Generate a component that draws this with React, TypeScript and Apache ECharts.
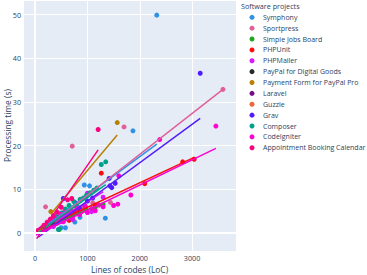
import React, { useEffect, useRef } from "react";
import * as echarts from "echarts";

const projectNames = [
  "Symphony",
  "Sportpress",
  "Simple Jobs Board",
  "PHPUnit",
  "PHPMailer",
  "PayPal for Digital Goods",
  "Payment Form for PayPal Pro",
  "Laravel",
  "Guzzle",
  "Grav",
  "Composer",
  "CodeIgniter",
  "Appointment Booking Calendar",
];

const projectColors = [
  "#2E91E5", "#E15F99", "#1CA71C", "#FB0D0D", "#DA16FF", "#222A2A", "#B68100",
  "#750D86", "#EB663B", "#511CFB", "#00A08B", "#FB00D1", "#FC0080",
];

// [lines of code, processing time]
const symphony = [
  [80, 0.5], [160, 1.0], [240, 1.7], [320, 2.4], [420, 2.2], [497, 1.2], [500, 3.6],
  [580, 1.2], [680, 4.5], [760, 2.5], [858, 3.6], [940, 11.0], [1040, 10.8],
  [1342, 3.4], [1870, 23.4], [2325, 49.9],
];
const sportpress = [
  [50, 0.6], [130, 1.2], [200, 6.0], [300, 2.9], [420, 3.6], [560, 4.9], [710, 19.9],
  [900, 5.8], [1100, 6.9], [1440, 7.0], [1700, 24.3], [3590, 32.9],
];
const simpleJobsBoard = [
  [100, 0.6], [230, 1.4], [380, 2.1], [460, 0.8], [520, 2.9], [650, 3.6], [820, 4.5],
  [980, 5.3], [1150, 5.9], [1300, 6.5],
];
const phpUnit = [
  [70, 0.6], [150, 1.0], [260, 1.9], [380, 2.3], [520, 3.4], [650, 2.9], [800, 5.4],
  [960, 6.1], [1150, 6.4], [1265, 13.7], [2095, 11.3], [2820, 16.3], [3040, 16.9],
];
const phpMailer = [
  [40, 0.3], [110, 0.8], [190, 1.4], [270, 2.1], [350, 1.5], [440, 3.3], [530, 2.6],
  [620, 4.6], [720, 3.1], [830, 5.8], [1000, 9.1], [1080, 4.9], [1300, 8.2],
];
const paypalDigitalGoods = [[40, 0.2], [90, 0.5], [150, 0.9], [230, 1.4]];
const paymentForm = [[300, 4.9], [380, 2.2], [480, 3.0], [620, 4.4], [1570, 25.3]];
const laravel = [[60, 0.4], [140, 0.9], [260, 1.7], [380, 2.4]];
const guzzle = [[50, 0.3], [120, 0.8], [210, 1.4], [300, 2.0]];
const grav = [
  [60, 0.2], [180, 1.1], [300, 1.9], [420, 2.7], [540, 7.9], [600, 4.3], [770, 6.9],
  [850, 5.6], [1000, 7.3], [1100, 8.0], [1415, 12.5], [1430, 10.8], [1465, 10.4],
  [1530, 11.4], [3155, 36.6],
];
const composer = [
  [60, 0.3], [150, 1.0], [250, 1.6], [330, 2.5], [400, 3.8], [446, 0.8], [450, 2.9],
  [500, 4.6], [540, 3.5], [580, 5.5], [620, 4.2], [650, 6.3], [700, 5.0], [740, 7.2],
  [800, 6.0], [860, 7.7], [920, 8.0], [980, 8.6], [1050, 9.2], [1120, 9.8],
  [1180, 10.3], [1265, 15.7], [1350, 16.3],
];
const codeIgniter = [
  [20, 0.2], [40, 0.3], [60, 0.5], [80, 0.4], [100, 0.9], [120, 0.6], [140, 1.2],
  [160, 0.8], [180, 1.5], [200, 1.0], [220, 1.9], [240, 1.3], [260, 2.2], [280, 1.6],
  [300, 2.6], [320, 1.9], [340, 2.9], [360, 2.2], [380, 3.4], [400, 2.5], [420, 3.1],
  [440, 2.8], [460, 3.8], [480, 3.0], [500, 4.3], [520, 3.3], [540, 2.6], [560, 3.7],
  [580, 4.8], [600, 3.4], [640, 4.1], [680, 5.2], [720, 3.9], [760, 4.6], [800, 5.8],
  [850, 4.2], [900, 5.0], [950, 6.3], [1000, 4.7], [1080, 5.6], [1150, 5.1],
  [1220, 6.4], [1300, 6.0], [1500, 6.3], [1580, 6.6], [1600, 13.1], [1830, 8.7],
  [2380, 21.4], [3455, 24.5],
];
const appointmentBooking = [
  [30, 0.1], [60, 0.4], [90, 0.3], [110, 0.9], [140, 1.0], [170, 1.8], [200, 1.3],
  [230, 2.5], [260, 1.9], [290, 3.2], [320, 2.4], [350, 4.0], [380, 3.1], [420, 4.8],
  [460, 3.6], [500, 5.9], [560, 4.5], [620, 7.6], [700, 7.9], [760, 5.0], [1205, 23.7],
];

const projectPoints = [
  symphony, sportpress, simpleJobsBoard, phpUnit, phpMailer, paypalDigitalGoods,
  paymentForm, laravel, guzzle, grav, composer, codeIgniter, appointmentBooking,
];

// OLS trendline coefficients
const trendSlopes = [
  0.0088, 0.00936, 0.0048, 0.0056, 0.0075, 0.0058, 0.01424, 0.0063, 0.0066, 0.0088,
  0.0085, 0.00577, 0.0173,
];
const trendIntercepts = [
  -0.1, -0.7, 0.5, 0.3, -0.3, 0.0, 0.1, 0.0, 0.0, -1.5, -0.4, -0.56, -1.8,
];

const FONT = '"Open Sans", verdana, arial, sans-serif';
const TEXT = "#2a3f5f";

export default function App() {
  const ref = useRef<HTMLDivElement>(null);
  useEffect(() => {
    if (!ref.current) return;
    const chart = echarts.init(ref.current, undefined, { renderer: "svg" });
    const series: any[] = [
      {
        type: "scatter",
        data: [],
        silent: true,
        markLine: {
          silent: true,
          symbol: "none",
          label: { show: false },
          lineStyle: { color: "#ffffff", width: 2, type: "solid" },
          data: [{ yAxis: 0 }, { xAxis: 0 }],
        },
      },
    ];
    projectNames.forEach((name, i) => {
      const pts = projectPoints[i];
      const xs = pts.map((p) => p[0]);
      const xMin = Math.min(...xs);
      const xMax = Math.max(...xs);
      series.push({
        name,
        type: "scatter",
        data: pts,
        symbolSize: 5,
        itemStyle: { color: projectColors[i], opacity: 1 },
      });
      series.push({
        name,
        type: "line",
        data: [
          [xMin, trendSlopes[i] * xMin + trendIntercepts[i]],
          [xMax, trendSlopes[i] * xMax + trendIntercepts[i]],
        ],
        showSymbol: false,
        symbol: "none",
        silent: true,
        lineStyle: { color: projectColors[i], width: 1.5 },
        itemStyle: { color: projectColors[i] },
      });
    });
    chart.setOption({
      animation: false,
      backgroundColor: "#ffffff",
      textStyle: { fontFamily: FONT },
      title: {
        text: "Software projects",
        left: 241,
        top: 2,
        padding: 0,
        textStyle: { fontSize: 7.2, fontWeight: "normal", color: TEXT, fontFamily: FONT },
      },
      graphic: [
        {
          type: "text",
          x: 7,
          y: 125.5,
          rotation: Math.PI / 2,
          silent: true,
          style: {
            text: "Processing time (s)",
            fontSize: 8.4,
            fontFamily: FONT,
            fill: TEXT,
            align: "center",
            verticalAlign: "middle",
          },
        },
      ],
      legend: {
        orient: "vertical",
        left: 249.5,
        top: 12.3,
        padding: 0,
        itemWidth: 5,
        itemHeight: 5,
        itemGap: 0.87,
        icon: "circle",
        data: projectNames.map((n) => ({ name: n, icon: "circle" })),
        textStyle: {
          fontSize: 7,
          color: TEXT,
          fontFamily: FONT,
          lineHeight: 10,
          padding: [0, 0, 0, 3.5],
        },
      },
      grid: {
        left: 23,
        right: 131,
        top: 0,
        bottom: 24,
        backgroundColor: "#E5ECF6",
        show: true,
        borderWidth: 0,
        containLabel: false,
        outerBoundsMode: "none",
      },
      xAxis: {
        type: "value",
        min: -231,
        max: 3839,
        splitNumber: 5,
        axisLine: { show: false },
        axisTick: { show: false },
        splitLine: { show: true, lineStyle: { color: "#ffffff", width: 1 } },
        axisLabel: {
          showMinLabel: false,
          showMaxLabel: false,
          fontSize: 7.2,
          color: TEXT,
          fontFamily: FONT,
          margin: 3,
          formatter: (v: number) => String(v),
        },
        name: "Lines of codes (LoC)",
        nameLocation: "middle",
        nameGap: 13,
        nameTextStyle: { fontSize: 8.4, color: TEXT, fontFamily: FONT },
      },
      yAxis: {
        type: "value",
        min: -4.12,
        max: 53.37,
        splitNumber: 5,
        axisLine: { show: false },
        axisTick: { show: false },
        splitLine: { show: true, lineStyle: { color: "#ffffff", width: 1 } },
        axisLabel: {
          showMinLabel: false,
          showMaxLabel: false,
          fontSize: 7.2,
          color: TEXT,
          fontFamily: FONT,
          margin: 2,
          formatter: (v: number) => String(v),
        },
      },
      series,
    });
    return () => chart.dispose();
  }, []);
  return <div ref={ref} style={{ width: 367, height: 275, position: "absolute", left: 0, top: 0 }} />;
}
